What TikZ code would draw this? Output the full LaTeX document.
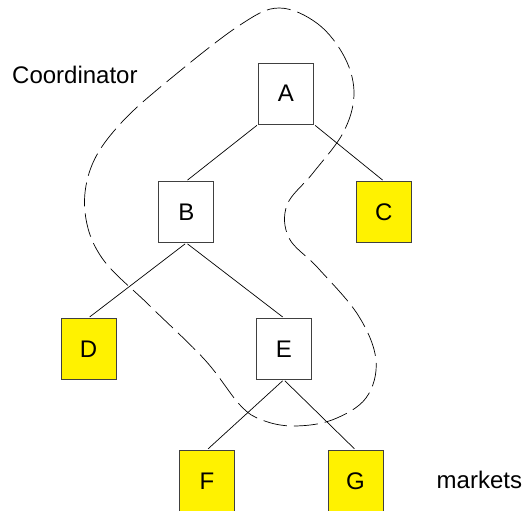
\documentclass[tikz,border=0pt]{standalone}
\usepackage{fontspec}
\setmainfont{Liberation Sans}
\begin{document}
\begin{tikzpicture}[x=1pt,y=-1pt,
  box/.style={draw=black!75, line width=0.9pt, minimum width=55pt, minimum height=61pt, inner sep=0pt, font=\fontsize{24}{28}\selectfont},
  leaf/.style={box, fill=yellow},
  inner/.style={box, fill=white},
  edge/.style={draw=black, line width=0.7pt, shorten <=1.5pt, shorten >=1.5pt},
  lbl/.style={inner sep=0pt, font=\fontsize{24}{28}\selectfont},
  region/.style={draw=black, line width=0.7pt, dash pattern=on 24pt off 7pt}]
\useasboundingbox (0,0) rectangle (523,511);
\draw[region] plot[smooth cycle, tension=0.6] coordinates {(279,8) (318,24) (345,58) (354,95) (343,133) (313,173) (287,205) (289,238) (318,268) (358,315) (376,360) (366,398) (332,420) (293,426) (262,420) (240,405) (205,360) (150,306) (102,258) (85,212) (92,165) (122,122) (175,75) (240,25)};
\node[inner] (A) at (286,93.5) {A};
\node[inner] (B) at (186.3,212) {B};
\node[leaf] (C) at (383.8,212) {C};
\node[leaf] (D) at (88.5,348.8) {D};
\node[inner] (E) at (283.8,348.8) {E};
\node[leaf] (F) at (207,480.8) {F};
\node[leaf] (G) at (355.5,480.8) {G};
\draw[edge] (A.south west) -- (B.north);
\draw[edge] (A.south east) -- (C.north);
\draw[edge] (B.south) -- (D.north);
\draw[edge] (B.south) -- (E.north);
\draw[edge] (E.south) -- (F.north);
\draw[edge] (E.south) -- (G.north);
\node[lbl, anchor=base west] (coord) at (12,83.3) {Coordinator};
\node[lbl, anchor=base west] (mk) at (436.5,488.3) {markets};
\end{tikzpicture}
\end{document}
